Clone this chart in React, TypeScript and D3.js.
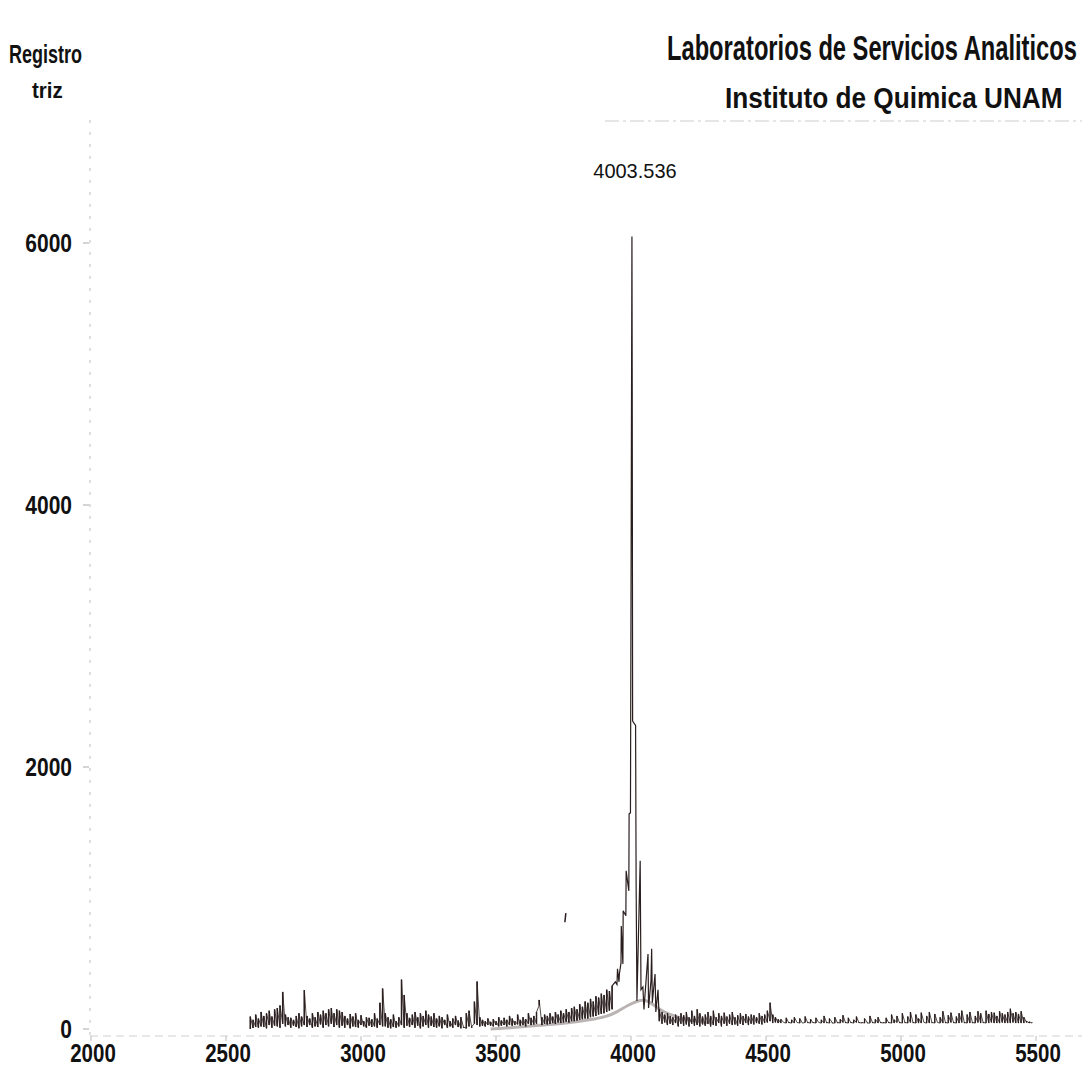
import React from "react";
import * as d3 from "d3";

const W = 1082;
const H = 1072;

// ---- axis ticks ----
const xTicks = [2000, 2500, 3000, 3500, 4000, 4500, 5000, 5500];
const yTicks = [0, 2000, 4000, 6000];

// ---- header texts ----
const titleMain = "Laboratorios de Servicios Analiticos";
const titleSub = "Instituto de Quimica UNAM";
const cornerTop = "Registro";
const cornerBottom = "triz";
const peakLabel = "4003.536";
const peakLabelMz = 4003.536;

// ---- noise profile left of the main peak (m/z 2590 .. 3935, pairs low/high every 10) ----
const leftStart = 2590;
const noiseStep = 5;
const leftNoise = [
  0, 95, 8, 70, 15, 110, 10, 80, 20, 130,
  15, 100, 5, 120, 30, 140, 10, 95, 25, 150,
  20, 160, 10, 180, 40, 283, 20, 110, 30, 90,
  10, 85, 25, 70, 15, 100, 5, 120, 20, 95,
  30, 296, 15, 100, 30, 80, 10, 120, 20, 90,
  15, 130, 35, 110, 10, 140, 30, 120, 20, 150,
  40, 160, 15, 120, 30, 150, 10, 140, 25, 130,
  10, 100, 30, 80, 5, 115, 20, 95, 15, 120,
  10, 70, 30, 105, 20, 60, 10, 90, 25, 85,
  15, 75, 20, 120, 10, 80, 30, 200, 20, 309,
  20, 120, 10, 90, 5, 75, 15, 110, 10, 60,
  20, 90, 30, 377, 10, 260, 25, 120, 15, 85,
  30, 110, 10, 130, 25, 90, 5, 120, 20, 100,
  30, 140, 10, 110, 25, 95, 15, 120, 10, 80,
  20, 100, 5, 90, 30, 70, 10, 110, 20, 60,
  10, 80, 30, 100, 15, 65, 5, 90, 10, 15,
  5, 120, 20, 140, 10, 20, 40, 209, 30, 362,
  20, 90, 25, 70, 20, 60, 30, 80, 25, 55,
  20, 75, 30, 60, 20, 90, 25, 65, 30, 85,
  20, 70, 30, 100, 25, 80, 30, 60, 35, 110,
  25, 70, 30, 90, 20, 75, 40, 120, 30, 85,
  35, 100, 40, 130, 180, 222, 30, 90, 40, 110,
  35, 100, 40, 120, 45, 95, 40, 130, 50, 110,
  45, 140, 50, 120, 55, 150, 50, 130, 60, 160,
  60, 170, 65, 150, 70, 190, 75, 170, 80, 210,
  80, 200, 90, 230, 95, 210, 100, 250, 110, 240,
  115, 270, 120, 260, 130, 300, 140, 290, 150, 330,
];

// ---- main peak cluster ----
const peakMz = [
  3942, 3948, 3950, 3955.5, 3957, 3963, 3964, 3970, 3971, 3981, 3982,
  3992, 3993, 3998, 4003.5, 4004.5, 4006, 4017, 4019, 4022, 4034,
  4037, 4044, 4048, 4063, 4065, 4074, 4076.5, 4079, 4089, 4092,
  4100, 4104,
];
const peakInt = [
  360, 340, 460, 360, 420, 505, 787, 497, 902, 864, 1208,
  1055, 1643, 1650, 6050, 4916, 2350, 2317, 1100, 214, 1284,
  300, 320, 150, 573, 160, 367, 612, 200, 420, 130,
  300, 100,
];

// ---- noise profile right of the main peak (m/z 4105 .. 5490, pairs low/high every 10) ----
const rightStart = 4105;
const rightNoise = [
  60, 150, 40, 130, 50, 110, 30, 120, 40, 100,
  30, 90, 45, 110, 20, 95, 40, 120, 25, 105,
  35, 130, 20, 90, 40, 140, 25, 100, 30, 150,
  20, 120, 35, 95, 25, 110, 40, 130, 20, 100,
  30, 140, 25, 90, 45, 120, 20, 100, 40, 125,
  25, 95, 40, 110, 30, 130, 35, 90, 25, 105,
  40, 120, 30, 100, 45, 115, 30, 95, 40, 110,
  35, 105, 45, 90, 40, 120, 35, 100, 45, 110,
  50, 140, 60, 201, 45, 110, 50, 90, 45, 75,
  45, 75, 50, 50, 45, 85, 45, 50, 45, 70,
  45, 90, 50, 50, 45, 80, 45, 45, 50, 95,
  45, 50, 45, 75, 45, 50, 45, 85, 50, 50,
  45, 70, 45, 100, 45, 50, 45, 80, 50, 45,
  45, 90, 45, 50, 45, 75, 50, 105, 45, 50,
  45, 85, 45, 50, 45, 70, 50, 95, 45, 50,
  45, 50, 45, 80, 50, 45, 45, 100, 45, 50,
  45, 75, 45, 90, 45, 50, 45, 50, 45, 85,
  45, 50, 45, 110, 45, 70, 50, 100, 45, 50,
  45, 120, 45, 50, 45, 95, 50, 130, 45, 50,
  45, 110, 45, 80, 45, 125, 50, 50, 45, 100,
  45, 130, 45, 50, 45, 115, 50, 50, 45, 90,
  45, 135, 45, 50, 45, 105, 50, 125, 45, 50,
  45, 95, 45, 120, 50, 140, 45, 50, 45, 110,
  45, 130, 45, 50, 45, 100, 50, 135, 45, 120,
  45, 50, 45, 140, 45, 115, 50, 130, 45, 125,
  45, 100, 45, 135, 50, 120, 45, 110, 45, 130,
  45, 155, 50, 120, 45, 130, 45, 115, 45, 135,
  45, 90, 50, 60, 45, 55, 45, 50,
];

// ---- faint smooth trace under the spectrum ----
const envelopeMz = [3480, 3560, 3660, 3760, 3850, 3910, 3950, 3985, 4050, 4085, 4120, 4170, 4230, 4300];
const envelopeInt = [0, 10, 28, 45, 70, 95, 130, 180, 240, 180, 130, 90, 60, 45];

// ---- stray short mark ----
const strayMz = [3755];
const strayLo = [815];
const strayHi = [885];

type P = [number, number];

const font = "'Liberation Sans', Arial, Helvetica, sans-serif";

function StretchText(props: {
  x: number;
  y: number;
  size: number;
  sy: number;
  anchor?: "start" | "middle" | "end";
  bold?: boolean;
  children: string;
}) {
  const { x, y, size, sy, anchor = "start", bold = true, children } = props;
  return (
    <text
      transform={`translate(${x},${y}) scale(1,${sy})`}
      textAnchor={anchor}
      fontFamily={font}
      fontWeight={bold ? "bold" : "normal"}
      fontSize={size}
      fill="#111"
    >
      {children}
    </text>
  );
}

export default function App() {
  const x = d3.scaleLinear().domain([2000, 5500]).range([91, 1036]);
  const y = d3.scaleLinear().domain([0, 6000]).range([1029, 243]);

  // consecutive noise samples are (low, high) pairs sharing one m/z column
  const pairX = (start: number, i: number) => start + Math.floor(i / 2) * noiseStep * 2;
  const leftPts: P[] = leftNoise.map((v, i) => [pairX(leftStart, i), v]);
  const peakPts: P[] = peakMz.map((m, i) => [m, peakInt[i]]);
  const rightPts: P[] = rightNoise.map((v, i) => [pairX(rightStart, i), v]);
  const peakJoined: P[] = [leftPts[leftPts.length - 1], ...peakPts, rightPts[0]];

  const sticks = (pts: P[]) =>
    d3.range(0, pts.length - 1, 2).map((i) => ({ m: pts[i][0], a: pts[i][1], b: pts[i + 1][1] }));
  const leftSticks = sticks(leftPts);
  const rightSticks = sticks(rightPts);

  const line = d3
    .line<P>()
    .x((d) => x(d[0]))
    .y((d) => y(d[1]));

  const envPts: P[] = envelopeMz.map((m, i) => [m, envelopeInt[i]]);
  const envLine = d3
    .line<P>()
    .x((d) => x(d[0]))
    .y((d) => y(d[1]))
    .curve(d3.curveBasis);

  const axisY = y(0) + 7;
  const axisX = x(2000) - 1;
  const ink = "#2a1e1e";

  return (
    <svg
      width={W}
      height={H}
      viewBox={`0 0 ${W} ${H}`}
      style={{ position: "absolute", left: 0, top: 0, background: "#fff" }}
    >
      <rect x={0} y={0} width={W} height={H} fill="#fff" />

      {/* header */}
      <StretchText x={667} y={60} size={23.7} sy={1.5}>{titleMain}</StretchText>
      <StretchText x={725} y={108} size={26.2} sy={1.15}>{titleSub}</StretchText>
      <line x1={605} x2={1082} y1={121} y2={121} stroke="#d2cbcb" strokeWidth={1.2} strokeDasharray="14 4 3 4" />

      <StretchText x={9} y={63} size={18} sy={1.4}>{cornerTop}</StretchText>
      <StretchText x={32} y={98} size={20.5} sy={1.1}>{cornerBottom}</StretchText>

      {/* faint axes */}
      <line x1={axisX} x2={axisX} y1={120} y2={axisY} stroke="#cfc8c8" strokeWidth={1.2} strokeDasharray="3 9" />
      <line x1={axisX} x2={W} y1={axisY} y2={axisY} stroke="#d6d0d0" strokeWidth={1.2} strokeDasharray="8 5" />
      {yTicks.map((t) => (
        <line key={"yt" + t} x1={axisX - 7} x2={axisX - 1} y1={y(t)} y2={y(t)} stroke="#aaa" strokeWidth={1} />
      ))}
      {xTicks.map((t) => (
        <line key={"xt" + t} x1={x(t)} x2={x(t)} y1={axisY} y2={axisY + 5} stroke="#bbb" strokeWidth={1} />
      ))}

      {/* y tick labels */}
      {yTicks.map((t) => (
        <StretchText key={"yl" + t} x={72} y={y(t) + 9} size={21} sy={1.25} anchor="end">
          {String(t)}
        </StretchText>
      ))}

      {/* x tick labels */}
      {xTicks.map((t) => (
        <StretchText key={"xl" + t} x={x(t) + 2} y={1062} size={20.5} sy={1.25} anchor="middle">
          {String(t)}
        </StretchText>
      ))}

      {/* smooth faint trace */}
      <path d={envLine(envPts) || ""} fill="none" stroke="#a39999" strokeWidth={3} strokeOpacity={0.75} />

      {/* spectrum: thin connecting profile */}
      <path d={line(leftPts) || ""} fill="none" stroke={ink} strokeWidth={0.8} />
      <path d={line(rightPts) || ""} fill="none" stroke={ink} strokeWidth={0.8} />
      {/* vertical strokes of the noise */}
      {leftSticks.map((s, i) => (
        <line key={"ls" + i} x1={x(s.m)} x2={x(s.m)} y1={y(s.a)} y2={y(s.b)} stroke={ink} strokeWidth={1.5} />
      ))}
      {rightSticks.map((s, i) => (
        <line key={"rs" + i} x1={x(s.m)} x2={x(s.m)} y1={y(s.a)} y2={y(s.b)} stroke={ink} strokeWidth={1.3} />
      ))}
      {/* main peak cluster */}
      <path d={line(peakJoined) || ""} fill="none" stroke={ink} strokeWidth={1.2} />

      {/* stray mark */}
      {strayMz.map((m, i) => (
        <line key={"s" + i} x1={x(m)} x2={x(m) + 1} y1={y(strayLo[i])} y2={y(strayHi[i])} stroke={ink} strokeWidth={1.5} />
      ))}

      {/* peak label */}
      <StretchText x={x(peakLabelMz) + 3} y={178} size={20} sy={1.05} anchor="middle" bold={false}>
        {peakLabel}
      </StretchText>
    </svg>
  );
}
